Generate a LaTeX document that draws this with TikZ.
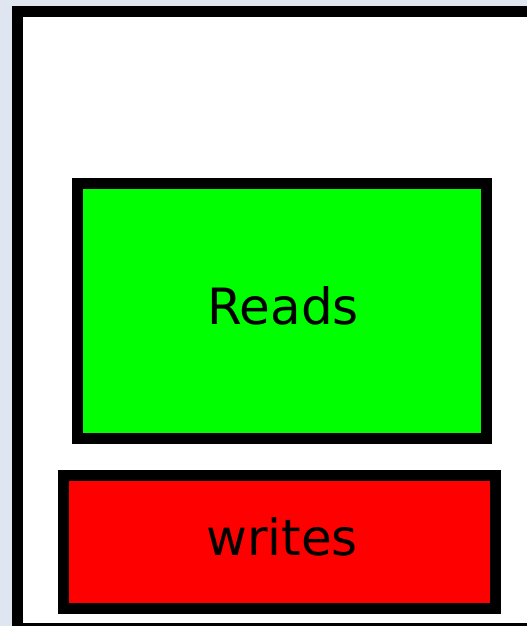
\documentclass[tikz,border=0pt]{standalone}
\usepackage{fontspec}
\setmainfont{DejaVu Sans}
\definecolor{bgblue}{HTML}{DFE6F2}
\definecolor{boxgreen}{HTML}{00FF00}
\definecolor{boxred}{HTML}{FF0000}
\begin{document}
\begin{tikzpicture}[x=1pt,y=-1pt,
  frame/.style={draw=black,line width=11pt,fill=white},
  panel/.style={draw=black,line width=11pt},
  lbl/.style={font=\fontsize{50}{60}\selectfont,text=black,inner sep=0pt}]
\useasboundingbox (0,0) rectangle (527,626);
\fill[bgblue] (0,0) rectangle (527,626);
\draw[frame] (17.5,11.5) rectangle (545,628.5);
\draw[panel,fill=boxgreen] (77.5,183.5) rectangle (486.5,438.5);
\node[lbl] (reads) at (283,306) {Reads};
\draw[panel,fill=boxred] (63.5,475.5) rectangle (495.5,608.5);
\node[lbl] (writes) at (282,537) {writes};
\end{tikzpicture}
\end{document}
